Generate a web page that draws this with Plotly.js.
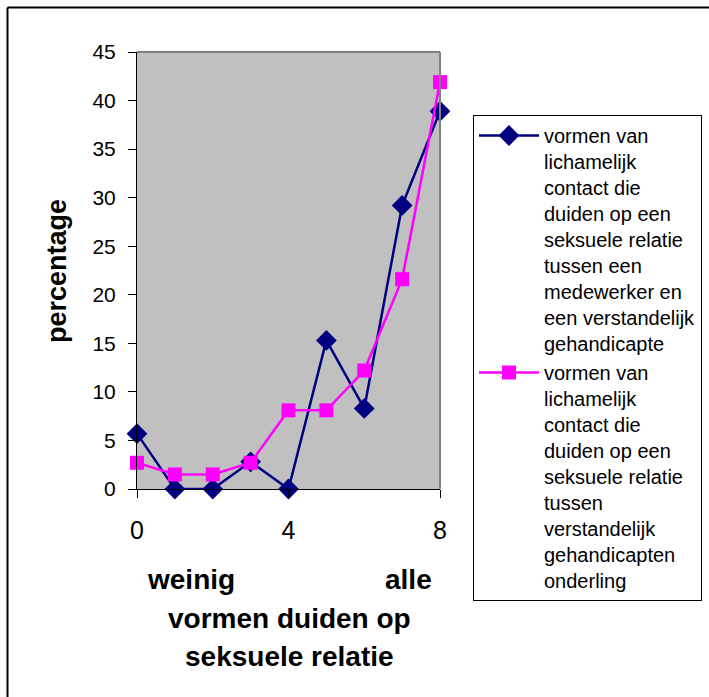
<!DOCTYPE html>
<html>
<head>
<meta charset="utf-8">
<script src="https://cdn.plot.ly/plotly-3.0.1.min.js"></script>
<style>
html,body{margin:0;padding:0;background:#fff;}
#chart{width:709px;height:697px;}
</style>
</head>
<body>
<div id="chart"></div>
<script>
// ---- data ----
var xValues = [0, 1, 2, 3, 4, 5, 6, 7, 8];
var seriesMedewerker = [5.7, 0, 0, 2.8, 0, 15.3, 8.3, 29.2, 38.9];
var seriesOnderling = [2.7, 1.5, 1.5, 2.7, 8.1, 8.1, 12.2, 21.6, 41.9];
var nameMedewerker = "vormen van<br>lichamelijk<br>contact die<br>duiden op een<br>seksuele relatie<br>tussen een<br>medewerker en<br>een verstandelijk<br>gehandicapte";
var nameOnderling = "vormen van<br>lichamelijk<br>contact die<br>duiden op een<br>seksuele relatie<br>tussen<br>verstandelijk<br>gehandicapten<br>onderling";
var xTickVals = [0, 4, 8];
var xTickText = ["0", "4", "8"];
var yTitle = "percentage";
var xLabelLow = "weinig";
var xLabelHigh = "alle";
var xTitleLine1 = "vormen duiden op";
var xTitleLine2 = "seksuele relatie";

// ---- geometry helpers (pixel -> paper) ----
var W = 709, Hh = 697;
var mL = 137, mR = 269, mT = 52, mB = 208;
var pw = W - mL - mR, ph = Hh - mT - mB;
function px(x){ return (x - mL) / pw; }
function py(y){ return (Hh - mB - y) / ph; }

var FONT = "Liberation Sans, Arial, sans-serif";

var traces = [
  {
    x: xValues, y: seriesMedewerker, name: nameMedewerker,
    type: "scatter", mode: "lines+markers", cliponaxis: false,
    line: {color: "#000080", width: 2.5},
    marker: {symbol: "diamond", size: 16, color: "#000080"}
  },
  {
    x: xValues, y: seriesOnderling, name: nameOnderling,
    type: "scatter", mode: "lines+markers", cliponaxis: false,
    line: {color: "#FF00FF", width: 2.5},
    marker: {symbol: "square", size: 14, color: "#FF00FF"}
  }
];

var layout = {
  width: W, height: Hh,
  margin: {l: mL, r: mR, t: mT, b: mB, pad: 0, autoexpand: false},
  paper_bgcolor: "#FFFFFF",
  plot_bgcolor: "#C0C0C0",
  font: {family: FONT, color: "#000000"},
  showlegend: true,
  legend: {
    x: px(473), y: py(115), xanchor: "left", yanchor: "top",
    bgcolor: "#FFFFFF", bordercolor: "#000000", borderwidth: 1,
    font: {family: FONT, size: 20, color: "#000000"},
    valign: "top", tracegroupgap: 0, traceorder: "normal",
    itemwidth: 60, maxheight: 697
  },
  xaxis: {
    range: [0, 8], tickvals: xTickVals, ticktext: xTickText,
    ticks: "outside", ticklen: 8, tickcolor: "#000000", tickwidth: 1,
    showline: true, linecolor: "#000000", linewidth: 1,
    showgrid: false, zeroline: false,
    tickfont: {family: FONT, size: 25, color: "#000000"},
    ticklabelstandoff: 11,
    mirror: false, fixedrange: true
  },
  yaxis: {
    range: [0, 45], dtick: 5, tick0: 0,
    ticks: "outside", ticklen: 8, tickcolor: "#000000", tickwidth: 1,
    showline: true, linecolor: "#000000", linewidth: 1,
    showgrid: false, zeroline: false,
    tickfont: {family: FONT, size: 21, color: "#000000"},
    ticklabelstandoff: 8,
    fixedrange: true
  },
  shapes: [
    {type: "line", xref: "paper", yref: "paper", x0: 0, x1: 1, y0: 1, y1: 1, line: {color: "#808080", width: 2}},
    {type: "line", xref: "paper", yref: "paper", x0: 1, x1: 1, y0: 0, y1: 1, line: {color: "#808080", width: 2}},
    {type: "line", xref: "paper", yref: "paper", x0: px(7.5), x1: px(720), y0: py(7.5), y1: py(7.5), line: {color: "#000000", width: 2}},
    {type: "line", xref: "paper", yref: "paper", x0: px(7.5), x1: px(7.5), y0: py(7.5), y1: py(720), line: {color: "#000000", width: 2}}
  ],
  annotations: [
    {text: yTitle, xref: "paper", yref: "paper", x: px(57), y: py(271), xanchor: "center", yanchor: "middle",
     textangle: -90, showarrow: false, font: {family: FONT, size: 27, color: "#000000", weight: "bold"}},
    {text: xLabelLow, xref: "paper", yref: "paper", x: px(191), y: py(579), xanchor: "center", yanchor: "middle",
     showarrow: false, font: {family: FONT, size: 28, color: "#000000", weight: "bold"}},
    {text: xLabelHigh, xref: "paper", yref: "paper", x: px(408), y: py(579), xanchor: "center", yanchor: "middle",
     showarrow: false, font: {family: FONT, size: 28, color: "#000000", weight: "bold"}},
    {text: xTitleLine1, xref: "paper", yref: "paper", x: px(289), y: py(618), xanchor: "center", yanchor: "middle",
     showarrow: false, font: {family: FONT, size: 28, color: "#000000", weight: "bold"}},
    {text: xTitleLine2, xref: "paper", yref: "paper", x: px(289), y: py(656), xanchor: "center", yanchor: "middle",
     showarrow: false, font: {family: FONT, size: 28, color: "#000000", weight: "bold"}}
  ]
};

Plotly.newPlot("chart", traces, layout, {staticPlot: true, displayModeBar: false});
</script>
</body>
</html>
